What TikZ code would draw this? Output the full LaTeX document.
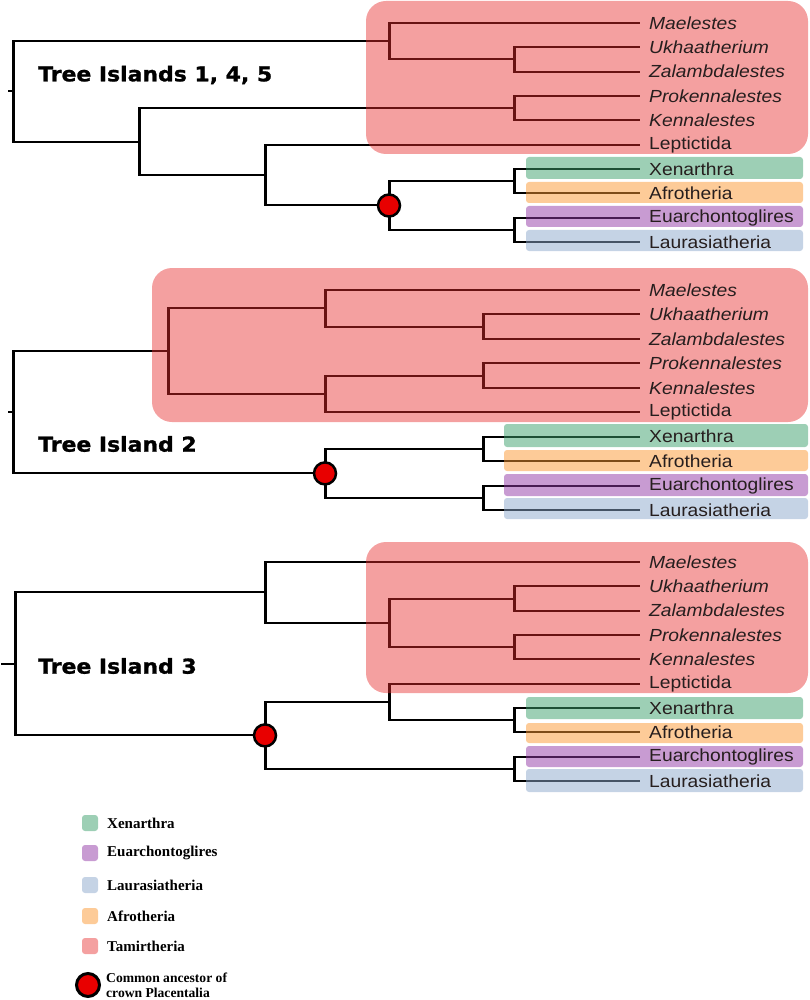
\documentclass[tikz,border=0pt]{standalone}
\usepackage{fontspec}
\newfontfamily\labfont[FakeStretch=1.1]{Liberation Sans}
\newfontfamily\titfont[FakeStretch=1.07,FakeBold=1.2]{DejaVu Sans}
\newfontfamily\legfont{Liberation Serif}
\definecolor{tamc}{RGB}{231,44,44}
\definecolor{xenc}{RGB}{59,159,107}
\definecolor{afrc}{RGB}{251,151,49}
\definecolor{euac}{RGB}{145,55,165}
\definecolor{lauc}{RGB}{139,167,203}
\definecolor{ancred}{RGB}{232,0,0}
\definecolor{labtxt}{RGB}{38,30,30}
\pgfdeclarelayer{boxes}
\pgfdeclarelayer{fg}
\pgfsetlayers{main,boxes,fg}
\tikzset{
  br/.style={line width=2pt, black},
  vb/.style={line width=3pt, black},
  leaf/.style={anchor=west, inner xsep=9pt, inner ysep=0pt, text=labtxt,
    font={\labfont\fontsize{17.5}{20}\selectfont}},
  ileaf/.style={leaf, font={\labfont\itshape\fontsize{17.5}{20}\selectfont}},
  anc/.style={circle, fill=ancred, draw=black, line width=2.5pt, minimum size=22pt, inner sep=0pt},
  title/.style={anchor=west, inner sep=0pt, font={\titfont\bfseries\fontsize{20.5}{24}\selectfont}},
  tambox/.style={fill=tamc, fill opacity=0.45, rounded corners=20pt},
  cbox/.style={fill opacity=0.5, rounded corners=3pt},
  legtxt/.style={anchor=west, inner sep=0pt, font={\legfont\bfseries\fontsize{15}{17}\selectfont}},
}
\begin{document}
\begin{tikzpicture}[x=1pt,y=-1pt]
\useasboundingbox (0,0) rectangle (810,1000);

% ================= Tree 1 =================
\coordinate (R1t) at (8,91.4);
\coordinate (R1) at (13,91.4);
\coordinate (A1) at (389,41.25);
\coordinate (U1) at (514,59.5);
\coordinate (B1) at (139,141.6);
\coordinate (K1) at (514,108.2);
\coordinate (C1) at (265,175.1);
\coordinate (P1) at (389,205.5);
\coordinate (X1) at (514,181.2);
\coordinate (Y1) at (514,229.9);
\begin{pgfonlayer}{fg}
\node[ileaf] (mae1) at (640,23) {Maelestes};
\node[ileaf] (ukh1) at (640,47.3) {Ukhaatherium};
\node[ileaf] (zal1) at (640,71.7) {Zalambdalestes};
\node[ileaf] (pro1) at (640,96) {Prokennalestes};
\node[ileaf] (ken1) at (640,120.3) {Kennalestes};
\node[leaf] (lep1) at (640,144.7) {Leptictida};
\node[leaf] (xen1) at (640,169) {Xenarthra};
\node[leaf] (afr1) at (640,193.3) {Afrotheria};
\node[leaf] (eua1) at (640,217.7) {Euarchontoglires};
\node[leaf] (lau1) at (640,242) {Laurasiatheria};
\end{pgfonlayer}
\draw[br] (R1t) -- (R1);
\draw[br] (R1) |- (A1);
\draw[br] (R1) |- (B1);
\draw[br] (A1) |- (mae1.west);
\draw[br] (A1) |- (U1);
\draw[br] (U1) |- (ukh1.west);
\draw[br] (U1) |- (zal1.west);
\draw[br] (B1) |- (K1);
\draw[br] (B1) |- (C1);
\draw[br] (K1) |- (pro1.west);
\draw[br] (K1) |- (ken1.west);
\draw[br] (C1) |- (lep1.west);
\draw[br] (C1) |- (P1);
\draw[br] (P1) |- (X1);
\draw[br] (P1) |- (Y1);
\draw[br] (X1) |- (xen1.west);
\draw[br] (X1) |- (afr1.west);
\draw[br] (Y1) |- (eua1.west);
\draw[br] (Y1) |- (lau1.west);
\draw[vb] (R1 |- A1) -- (R1 |- B1);
\draw[vb] (A1 |- mae1.west) -- (A1 |- U1);
\draw[vb] (U1 |- ukh1.west) -- (U1 |- zal1.west);
\draw[vb] (B1 |- K1) -- (B1 |- C1);
\draw[vb] (K1 |- pro1.west) -- (K1 |- ken1.west);
\draw[vb] (C1 |- lep1.west) -- (C1 |- P1);
\draw[vb] (P1 |- X1) -- (P1 |- Y1);
\draw[vb] (X1 |- xen1.west) -- (X1 |- afr1.west);
\draw[vb] (Y1 |- eua1.west) -- (Y1 |- lau1.west);
\node[anc] (P1dot) at (P1) {};
\node[title] (t1) at (38,75) {Tree Islands 1, 4, 5};
\begin{pgfonlayer}{boxes}
\fill[tambox] (366,1) rectangle (808,154);
\fill[cbox, xenc] (526,157) rectangle (803,179);
\fill[cbox, afrc] (526,182) rectangle (803,203);
\fill[cbox, euac] (526,206) rectangle (803,227);
\fill[cbox, lauc] (526,230) rectangle (803,251);
\end{pgfonlayer}

% ================= Tree 2 =================
\coordinate (R2t) at (8,412.2);
\coordinate (R2) at (13,412.2);
\coordinate (T2) at (168,351.1);
\coordinate (M2) at (325,308.3);
\coordinate (U2) at (483,326.7);
\coordinate (N2) at (325,393.9);
\coordinate (K2) at (483,375.6);
\coordinate (P2) at (325,473.4);
\coordinate (X2) at (483,448.9);
\coordinate (Y2) at (483,497.8);
\begin{pgfonlayer}{fg}
\node[ileaf] (mae2) at (640,290) {Maelestes};
\node[ileaf] (ukh2) at (640,314.4) {Ukhaatherium};
\node[ileaf] (zal2) at (640,338.9) {Zalambdalestes};
\node[ileaf] (pro2) at (640,363.3) {Prokennalestes};
\node[ileaf] (ken2) at (640,387.8) {Kennalestes};
\node[leaf] (lep2) at (640,412.2) {Leptictida};
\node[leaf] (xen2) at (640,436.7) {Xenarthra};
\node[leaf] (afr2) at (640,461.1) {Afrotheria};
\node[leaf] (eua2) at (640,485.6) {Euarchontoglires};
\node[leaf] (lau2) at (640,510) {Laurasiatheria};
\end{pgfonlayer}
\draw[br] (R2t) -- (R2);
\draw[br] (R2) |- (T2);
\draw[br] (R2) |- (P2);
\draw[br] (T2) |- (M2);
\draw[br] (T2) |- (N2);
\draw[br] (M2) |- (mae2.west);
\draw[br] (M2) |- (U2);
\draw[br] (U2) |- (ukh2.west);
\draw[br] (U2) |- (zal2.west);
\draw[br] (N2) |- (K2);
\draw[br] (N2) |- (lep2.west);
\draw[br] (K2) |- (pro2.west);
\draw[br] (K2) |- (ken2.west);
\draw[br] (P2) |- (X2);
\draw[br] (P2) |- (Y2);
\draw[br] (X2) |- (xen2.west);
\draw[br] (X2) |- (afr2.west);
\draw[br] (Y2) |- (eua2.west);
\draw[br] (Y2) |- (lau2.west);
\draw[vb] (R2 |- T2) -- (R2 |- P2);
\draw[vb] (T2 |- M2) -- (T2 |- N2);
\draw[vb] (M2 |- mae2.west) -- (M2 |- U2);
\draw[vb] (U2 |- ukh2.west) -- (U2 |- zal2.west);
\draw[vb] (N2 |- K2) -- (N2 |- lep2.west);
\draw[vb] (K2 |- pro2.west) -- (K2 |- ken2.west);
\draw[vb] (P2 |- X2) -- (P2 |- Y2);
\draw[vb] (X2 |- xen2.west) -- (X2 |- afr2.west);
\draw[vb] (Y2 |- eua2.west) -- (Y2 |- lau2.west);
\node[anc] (P2dot) at (P2) {};
\node[title] (t2) at (38,444) {Tree Island 2};
\begin{pgfonlayer}{boxes}
\fill[tambox] (152,268) rectangle (808,422);
\fill[cbox, xenc] (504,424) rectangle (808,447);
\fill[cbox, afrc] (504,450) rectangle (808,471);
\fill[cbox, euac] (504,474) rectangle (808,496);
\fill[cbox, lauc] (504,498) rectangle (808,519);
\end{pgfonlayer}

% ================= Tree 3 =================
\coordinate (R3t) at (1,663.9);
\coordinate (R3) at (15,663.9);
\coordinate (T3) at (265,592.4);
\coordinate (Q3) at (389,622.8);
\coordinate (U3) at (514,598.5);
\coordinate (K3) at (514,647.2);
\coordinate (P3) at (265,735.4);
\coordinate (C3) at (389,702);
\coordinate (X3) at (514,720.2);
\coordinate (Y3) at (514,768.9);
\begin{pgfonlayer}{fg}
\node[ileaf] (mae3) at (640,562) {Maelestes};
\node[ileaf] (ukh3) at (640,586.3) {Ukhaatherium};
\node[ileaf] (zal3) at (640,610.7) {Zalambdalestes};
\node[ileaf] (pro3) at (640,635) {Prokennalestes};
\node[ileaf] (ken3) at (640,659.3) {Kennalestes};
\node[leaf] (lep3) at (640,683.7) {Leptictida};
\node[leaf] (xen3) at (640,708) {Xenarthra};
\node[leaf] (afr3) at (640,732.3) {Afrotheria};
\node[leaf] (eua3) at (640,756.7) {Euarchontoglires};
\node[leaf] (lau3) at (640,781) {Laurasiatheria};
\end{pgfonlayer}
\draw[br] (R3t) -- (R3);
\draw[br] (R3) |- (T3);
\draw[br] (R3) |- (P3);
\draw[br] (T3) |- (mae3.west);
\draw[br] (T3) |- (Q3);
\draw[br] (Q3) |- (U3);
\draw[br] (Q3) |- (K3);
\draw[br] (U3) |- (ukh3.west);
\draw[br] (U3) |- (zal3.west);
\draw[br] (K3) |- (pro3.west);
\draw[br] (K3) |- (ken3.west);
\draw[br] (P3) |- (C3);
\draw[br] (P3) |- (Y3);
\draw[br] (C3) |- (lep3.west);
\draw[br] (C3) |- (X3);
\draw[br] (X3) |- (xen3.west);
\draw[br] (X3) |- (afr3.west);
\draw[br] (Y3) |- (eua3.west);
\draw[br] (Y3) |- (lau3.west);
\draw[vb] (R3 |- T3) -- (R3 |- P3);
\draw[vb] (T3 |- mae3.west) -- (T3 |- Q3);
\draw[vb] (Q3 |- U3) -- (Q3 |- K3);
\draw[vb] (U3 |- ukh3.west) -- (U3 |- zal3.west);
\draw[vb] (K3 |- pro3.west) -- (K3 |- ken3.west);
\draw[vb] (P3 |- C3) -- (P3 |- Y3);
\draw[vb] (C3 |- lep3.west) -- (C3 |- X3);
\draw[vb] (X3 |- xen3.west) -- (X3 |- afr3.west);
\draw[vb] (Y3 |- eua3.west) -- (Y3 |- lau3.west);
\node[anc] (P3dot) at (P3) {};
\node[title] (t3) at (38,666) {Tree Island 3};
\begin{pgfonlayer}{boxes}
\fill[tambox] (366,542) rectangle (808,693);
\fill[cbox, xenc] (526,697) rectangle (803,719);
\fill[cbox, afrc] (526,723) rectangle (803,743);
\fill[cbox, euac] (526,746) rectangle (803,767);
\fill[cbox, lauc] (526,769) rectangle (803,792);
\end{pgfonlayer}

% ================= Legend =================
\fill[cbox, xenc] (82,815) rectangle (98,831);
\fill[cbox, euac] (82,845) rectangle (98,861);
\fill[cbox, lauc] (82,877) rectangle (98,893);
\fill[cbox, afrc] (82,908) rectangle (98,924);
\fill[tambox, rounded corners=3pt] (82,938) rectangle (98,954);
\node[legtxt] (lx) at (107,823) {Xenarthra};
\node[legtxt] (le) at (107,853) {Euarchontoglires};
\node[legtxt] (ll) at (107,885) {Laurasiatheria};
\node[legtxt] (la) at (107,916) {Afrotheria};
\node[legtxt] (lt) at (107,946) {Tamirtheria};
\node[anc, line width=3pt, minimum size=23pt] (ldot) at (88,985) {};
\node[anchor=west, inner sep=0pt, align=left, font={\legfont\bfseries\fontsize{13.6}{15}\selectfont}] (lc) at (106,985) {Common ancestor of\\crown Placentalia};
\end{tikzpicture}
\end{document}
